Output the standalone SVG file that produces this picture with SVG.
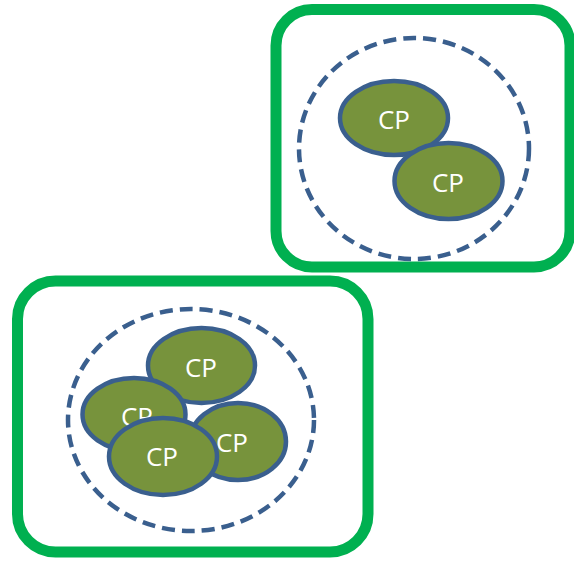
<svg xmlns="http://www.w3.org/2000/svg" width="574" height="562" viewBox="0 0 574 562">
<style>
.box{fill:#ffffff;stroke:#00B050;stroke-width:11}
.ring{fill:none;stroke:#3A5F8E;stroke-width:4.5;stroke-dasharray:13 7}
.cp{fill:#77933C;stroke:#3A5F8E;stroke-width:4.5}
.lbl{font-family:"Open Sans","Liberation Sans",sans-serif;font-size:26px;fill:#ffffff;text-anchor:middle}
</style>
<rect width="574" height="562" fill="#ffffff"/>
<g id="group-top">
<rect class="box" x="276" y="9.5" width="294" height="257.5" rx="36" ry="36"/>
<ellipse class="ring" cx="414" cy="148.5" rx="115" ry="110.5"/>
<g id="cp-top-1">
<ellipse class="cp" cx="394" cy="118" rx="54" ry="37"/>
<text class="lbl" x="394" y="129">CP</text>
</g>
<g id="cp-top-2">
<ellipse class="cp" cx="448.5" cy="181" rx="54" ry="38"/>
<text class="lbl" x="448" y="192">CP</text>
</g>
</g>
<g id="group-bottom">
<rect class="box" x="17.5" y="281" width="350.5" height="271" rx="38" ry="38"/>
<ellipse class="ring" cx="191" cy="420" rx="123" ry="111"/>
<g id="cp-b-1">
<ellipse class="cp" cx="201.5" cy="365.5" rx="53.5" ry="37.5"/>
<text class="lbl" x="201" y="377">CP</text>
</g>
<g id="cp-b-2">
<ellipse class="cp" cx="134" cy="414.5" rx="51.5" ry="36.5"/>
<text class="lbl" x="137" y="426">CP</text>
</g>
<g id="cp-b-3">
<ellipse class="cp" cx="238" cy="441.5" rx="48" ry="38.5"/>
<text class="lbl" x="232" y="452">CP</text>
</g>
<g id="cp-b-4">
<ellipse class="cp" cx="163" cy="456.5" rx="54" ry="38.5"/>
<text class="lbl" x="162" y="466">CP</text>
</g>
</g>
</svg>
